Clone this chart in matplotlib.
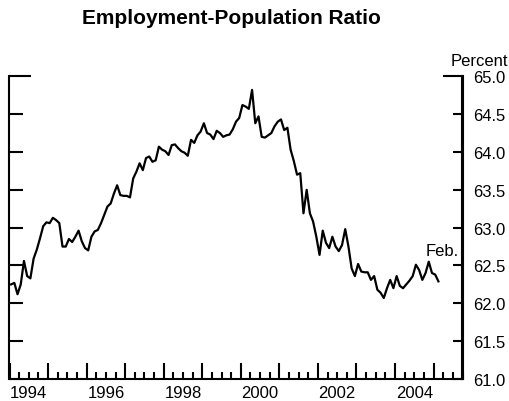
import matplotlib.pyplot as plt
import numpy as np
from matplotlib.ticker import FuncFormatter

plt.rcParams['font.family'] = ['Liberation Sans', 'DejaVu Sans']

# monthly values, Jan 1994 - Feb 2005
ratio_1994 = [62.25, 62.27, 62.12, 62.25, 62.56, 62.36, 62.33, 62.59, 62.71, 62.86, 63.02, 63.07]
ratio_1995 = [63.06, 63.13, 63.10, 63.06, 62.75, 62.75, 62.85, 62.81, 62.88, 62.96, 62.82, 62.73]
ratio_1996 = [62.70, 62.88, 62.95, 62.97, 63.06, 63.17, 63.28, 63.32, 63.45, 63.56, 63.43, 63.42]
ratio_1997 = [63.42, 63.40, 63.65, 63.74, 63.85, 63.76, 63.92, 63.94, 63.87, 63.89, 64.07, 64.03]
ratio_1998 = [64.01, 63.96, 64.09, 64.10, 64.05, 64.01, 63.99, 63.95, 64.16, 64.12, 64.22, 64.27]
ratio_1999 = [64.38, 64.25, 64.23, 64.17, 64.28, 64.25, 64.20, 64.22, 64.23, 64.30, 64.40, 64.45]
ratio_2000 = [64.62, 64.60, 64.57, 64.82, 64.38, 64.47, 64.20, 64.19, 64.22, 64.25, 64.34, 64.40]
ratio_2001 = [64.43, 64.29, 64.32, 64.03, 63.88, 63.70, 63.72, 63.19, 63.50, 63.19, 63.08, 62.88]
ratio_2002 = [62.64, 62.96, 62.80, 62.73, 62.88, 62.75, 62.69, 62.77, 62.98, 62.75, 62.46, 62.36]
ratio_2003 = [62.52, 62.42, 62.41, 62.41, 62.31, 62.36, 62.18, 62.14, 62.07, 62.20, 62.31, 62.20]
ratio_2004 = [62.36, 62.23, 62.20, 62.25, 62.30, 62.36, 62.51, 62.44, 62.31, 62.40, 62.55, 62.40]
ratio_2005 = [62.38, 62.29]

year_labels = ['1994', '1996', '1998', '2000', '2002', '2004']
y_ticks = [61.0, 61.5, 62.0, 62.5, 63.0, 63.5, 64.0, 64.5, 65.0]

values = (ratio_1994 + ratio_1995 + ratio_1996 + ratio_1997 + ratio_1998 + ratio_1999
          + ratio_2000 + ratio_2001 + ratio_2002 + ratio_2003 + ratio_2004 + ratio_2005)
dates = 1994 + (np.arange(len(values)) + 0.5) / 12

fig = plt.figure(figsize=(5.1, 4.02), dpi=100)
ax = fig.add_axes([9.5 / 510, 22 / 402, 453 / 510, 302.7 / 402])

ax.plot(dates, values, color='black', lw=1.6)

ax.set_xlim(1994, 2005.75)
ax.set_ylim(61, 65)

for s in ['left', 'right', 'bottom']:
    ax.spines[s].set_linewidth(1.5)
ax.spines['top'].set_visible(False)

# x axis: year ticks, quarter ticks, labels in the middle of even years
ax.set_xticks(np.arange(1994, 2006))
ax.set_xticks(np.arange(1994, 2005.8, 0.25), minor=True)
ax.xaxis.set_major_formatter(FuncFormatter(lambda v, p: ''))
label_pos = {int(t) + 0.5: t for t in year_labels}
ax.xaxis.set_minor_formatter(FuncFormatter(
    lambda v, p: label_pos.get(round(v * 4) / 4, '')))
ax.tick_params(axis='x', which='major', direction='in', length=11.5, width=1.5)
ax.tick_params(axis='x', which='minor', direction='in', length=5.3, width=1.5,
               labelsize=12, pad=4.5)

# left side ticks, no labels
ax.set_yticks([65.0])
ax.set_yticks(y_ticks[:-1], minor=True)
ax.tick_params(axis='y', which='major', direction='in', length=16, width=1.5, labelleft=False)
ax.tick_params(axis='y', which='minor', direction='in', length=10, width=1.5, labelleft=False)

# right side ticks with labels
ax2 = ax.twinx()
ax2.set_ylim(61, 65)
for s in ['left', 'top', 'bottom']:
    ax2.spines[s].set_visible(False)
ax2.spines['right'].set_linewidth(1.5)
ax2.set_yticks([65.0])
ax2.set_yticks(y_ticks[:-1], minor=True)
fmt = FuncFormatter(lambda v, p: f'{v:.1f}')
ax2.yaxis.set_major_formatter(fmt)
ax2.yaxis.set_minor_formatter(fmt)
ax2.tick_params(axis='y', which='both', direction='in', width=1.5, labelsize=12, pad=7.5)
ax2.tick_params(axis='y', which='major', length=14.4)
ax2.tick_params(axis='y', which='minor', length=7.2)

fig.text(508 / 510, 1 - 62 / 402, 'Percent', ha='right', va='center', fontsize=12)

ax.text(dates[-1] + 0.1, 62.70, 'Feb.', ha='center', va='center', fontsize=12)

fig.text(231 / 510, 1 - 19 / 402, 'Employment-Population Ratio', ha='center', va='center',
         fontsize=15, fontweight='bold')

fig.savefig('out.png', dpi=100)
